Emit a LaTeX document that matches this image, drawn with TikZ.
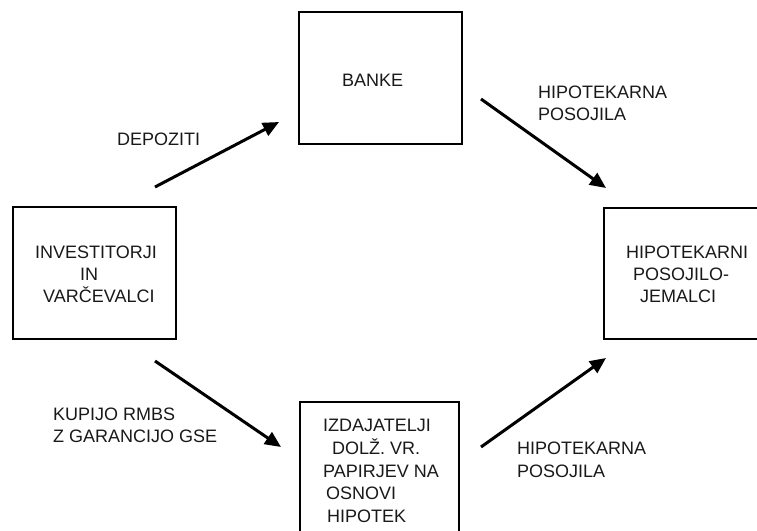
\documentclass[tikz,border=0pt]{standalone}
\usepackage{fontspec}
\setmainfont{Liberation Sans}
\usetikzlibrary{arrows.meta}
\begin{document}
\begin{tikzpicture}[x=1pt,y=-1pt,
  box/.style={draw=black,line width=1.2pt},
  txt/.style={anchor=base west,inner sep=0pt,font=\fontsize{18}{20}\selectfont,text=black!90},
  flow/.style={line width=3pt,-{Triangle[length=16pt,width=14pt]}}]
\useasboundingbox (0,0) rectangle (757,530);
\begin{scope}
\clip (0,0) rectangle (757,530);
% boxes
\draw[box] (13,207) rectangle (176,339) node[pos=0,inner sep=0pt] (inv) {};
\draw[box] (299,12) rectangle (462,144) node[pos=0,inner sep=0pt] (bank) {};
\draw[box] (604,208) rectangle (780,339) node[pos=0,inner sep=0pt] (hip) {};
\draw[box] (300,402) rectangle (459,560) node[pos=0,inner sep=0pt] (izd) {};
\end{scope}
% box texts
\node[txt] (inv1) at (35,258) {INVESTITORJI};
\node[txt] (inv2) at (80,280) {IN};
\node[txt] (inv3) at (43,302) {VARČEVALCI};
\node[txt] (bank1) at (342,86) {BANKE};
\node[txt] (hip1) at (626,258) {HIPOTEKARNI};
\node[txt] (hip2) at (633,280) {POSOJILO-};
\node[txt] (hip3) at (640,302) {JEMALCI};
\node[txt] (izd1) at (323,431) {IZDAJATELJI};
\node[txt] (izd2) at (332,454) {DOLŽ. VR.};
\node[txt] (izd3) at (323,477) {PAPIRJEV NA};
\node[txt] (izd4) at (326,499) {OSNOVI};
\node[txt] (izd5) at (327,522) {HIPOTEK};
% arrow labels
\node[txt] (dep) at (117,145) {DEPOZITI};
\node[txt] (hpa1) at (538,98) {HIPOTEKARNA};
\node[txt] (hpa2) at (538,120) {POSOJILA};
\node[txt] (kup1) at (53,420) {KUPIJO RMBS};
\node[txt] (kup2) at (53,442) {Z GARANCIJO GSE};
\node[txt] (hpb1) at (517,454) {HIPOTEKARNA};
\node[txt] (hpb2) at (517,477) {POSOJILA};
% arrow ends
\coordinate (a1s) at (155,187); \coordinate (a1e) at (279,122);
\coordinate (a2s) at (481,99);  \coordinate (a2e) at (606,188);
\coordinate (a3s) at (155,361); \coordinate (a3e) at (281,447);
\coordinate (a4s) at (481,447); \coordinate (a4e) at (606,358);
\draw[flow] (a1s) -- (a1e);
\draw[flow] (a2s) -- (a2e);
\draw[flow] (a3s) -- (a3e);
\draw[flow] (a4s) -- (a4e);
\end{tikzpicture}
\end{document}
